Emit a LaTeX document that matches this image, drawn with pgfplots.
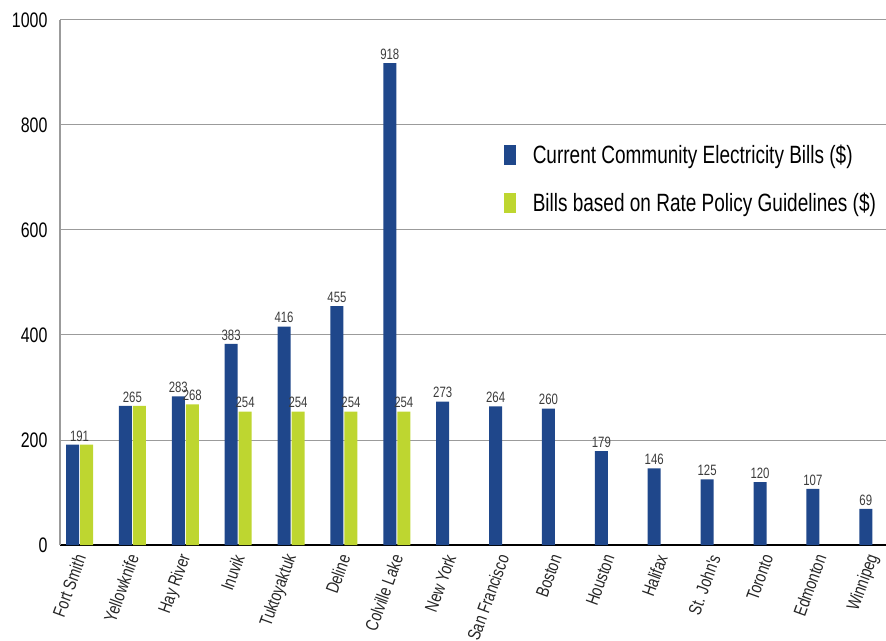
\documentclass[border=0pt]{standalone}
\usepackage{fontspec}
\setmainfont[FakeStretch=0.76]{Liberation Sans}
\newfontfamily\catfont[FakeStretch=0.78]{Liberation Sans}
\usepackage{pgfplots}
\pgfplotsset{compat=1.18}
\definecolor{cblue}{RGB}{31,71,139}
\definecolor{cgreen}{RGB}{190,214,48}
\definecolor{lbl}{RGB}{60,60,60}
\definecolor{gridg}{RGB}{155,155,155}
\begin{document}
\begin{tikzpicture}
\useasboundingbox (-60pt,-95pt) rectangle (826pt,545pt);
\begin{axis}[
  scale only axis, width=826pt, height=525pt,
  at={(0,0)}, anchor=south west,
  xmin=-0.369, xmax=15.25, ymin=0, ymax=1000,
  ytick={0,200,...,1000},
  xtick={0,...,15},
  xticklabels={Fort Smith, Yellowknife, Hay River, Inuvik, Tuktoyaktuk, Deline, Colville Lake, New York, San Francisco, Boston, Houston, Halifax, St. John's, Toronto, Edmonton, Winnipeg},
  x tick label style={xshift=2pt, yshift=-7pt, rotate=70, anchor=east, font=\catfont\fontsize{18}{20}\selectfont, text=black!85},
  y tick label style={font=\fontsize{21}{24}\selectfont, xshift=-9pt},
  /pgf/number format/assume math mode=true,
  /pgf/number format/1000 sep={},
  major tick length=0pt,
  ymajorgrids, grid style={gridg, line width=1pt},
  axis x line*=bottom, axis y line*=left,
  x axis line style={black, line width=1.6pt},
  y axis line style={gridg, line width=1.2pt},
  ybar, bar width=13pt,
  nodes near coords, point meta=y,
  every node near coord/.append style={font=\fontsize{15}{17}\selectfont, text=lbl},
  legend style={at={(0.537,0.766)}, anchor=north west, draw=none, fill=none,
    font=\fontsize{25}{28}\selectfont, row sep=24pt, inner sep=0pt,
    /tikz/every odd column/.append style={column sep=15pt}},
  legend cell align=left,
  legend image code/.code={\draw[#1,/tikz/.cd,draw=none] (0pt,-10pt) rectangle (12pt,10pt);},
]
% blue with labels
\addplot[fill=cblue, draw=none, bar shift=-7pt] coordinates {
 (2,283) (3,383) (4,416) (5,455) (6,918) (7,273) (8,264) (9,260)
 (10,179) (11,146) (12,125) (13,120) (14,107) (15,69)};
\addlegendentry{Current Community Electricity Bills (\$)}
% green with labels
\addplot[fill=cgreen, draw=none, bar shift=7pt] coordinates {
 (2,268) (3,254) (4,254) (5,254) (6,254)};
\addlegendentry{Bills based on Rate Policy Guidelines (\$)}
% bars without own labels
\addplot[fill=cblue, draw=none, bar shift=-7pt, nodes near coords={}, forget plot] coordinates {(0,191) (1,265)};
\addplot[fill=cgreen, draw=none, bar shift=7pt, nodes near coords={}, forget plot] coordinates {(0,191) (1,265)};
% shared labels
\addplot[draw=none, fill=none, bar shift=0pt, forget plot] coordinates {(0,191) (1,265)};
\end{axis}
\end{tikzpicture}
\end{document}
